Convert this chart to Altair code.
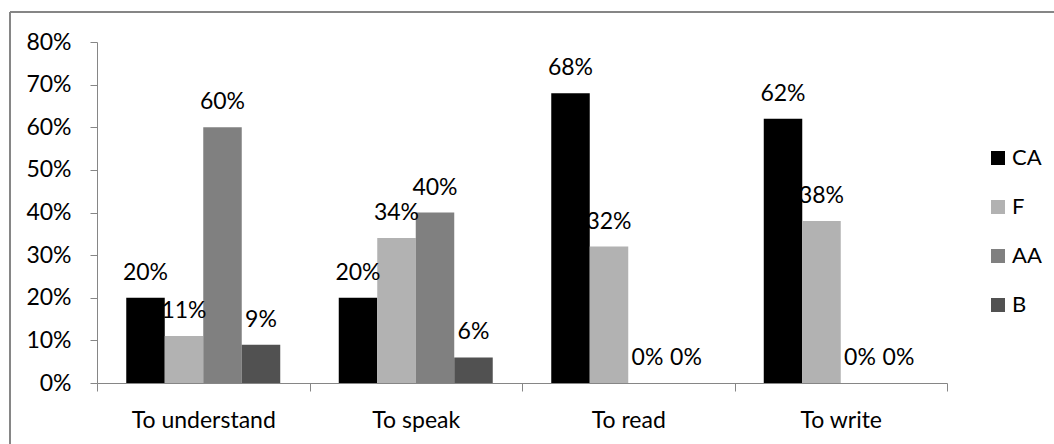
import altair as alt
import pandas as pd

# Survey results: share of answers per skill and level
skills = ["To understand", "To speak", "To read", "To write"]
levels = ["CA", "F", "AA", "B"]
ca = [0.20, 0.20, 0.68, 0.62]
f = [0.11, 0.34, 0.32, 0.38]
aa = [0.60, 0.40, 0.00, 0.00]
b = [0.09, 0.06, 0.00, 0.00]
level_colors = ["#000000", "#b2b2b2", "#808080", "#515151"]

rows = []
for level, series in zip(levels, [ca, f, aa, b]):
    for skill, v in zip(skills, series):
        rows.append({"skill": skill, "level": level, "share": v})
df = pd.DataFrame(rows)

FONT = "Lato"
FS = 23
AXIS_GRAY = "#868686"

x_enc = alt.X("skill:N", sort=skills, title=None,
              scale=alt.Scale(paddingInner=0, paddingOuter=0),
              axis=alt.Axis(labelAngle=0, tickBand="extent", tickSize=8,
                            labelPadding=18, domainColor=AXIS_GRAY,
                            tickColor=AXIS_GRAY, labelColor="#000000",
                            labelFont=FONT, labelFontSize=FS))
off_enc = alt.XOffset("level:N", sort=levels,
                      scale=alt.Scale(paddingInner=0, paddingOuter=0.76))
y_enc = alt.Y("share:Q", title=None,
              scale=alt.Scale(domain=[0, 0.8], nice=False),
              axis=alt.Axis(values=[0, 0.1, 0.2, 0.3, 0.4, 0.5, 0.6, 0.7, 0.8],
                            format=".0%", grid=False, tickSize=7,
                            labelPadding=19, domainColor=AXIS_GRAY,
                            tickColor=AXIS_GRAY, labelColor="#000000",
                            labelFont=FONT, labelFontSize=FS))

bars = alt.Chart(df).mark_bar().encode(
    x=x_enc,
    xOffset=off_enc,
    y=y_enc,
    color=alt.Color("level:N", sort=levels,
                    scale=alt.Scale(domain=levels, range=level_colors),
                    legend=alt.Legend(title=None, orient="none",
                                      legendX=890, legendY=105,
                                      symbolType="square", symbolSize=196,
                                      symbolStrokeWidth=0, symbolOpacity=1,
                                      labelFont=FONT, labelFontSize=FS - 1,
                                      labelColor="#000000", labelOffset=3,
                                      rowPadding=27)),
)

labels = alt.Chart(df).mark_text(
    baseline="middle", align="center", dy=-25, font=FONT, fontSize=FS,
    color="#000000",
).encode(
    x=alt.X("skill:N", sort=skills),
    xOffset=alt.XOffset("level:N", sort=levels),
    y="share:Q",
    text=alt.Text("share:Q", format=".0%"),
)

# Chart-area frame (left and top edges)
frame_left = alt.Chart(df).mark_rule(color=AXIS_GRAY, strokeWidth=1.5).encode(
    x=alt.value(-87), y=alt.value(-30), y2=alt.value(420))
frame_top = alt.Chart(df).mark_rule(color=AXIS_GRAY, strokeWidth=1.5).encode(
    x=alt.value(-87), x2=alt.value(970), y=alt.value(-30))

chart = alt.layer(bars, labels, frame_left, frame_top).properties(
    width=850, height=341,
    autosize=alt.AutoSizeParams(type="none"),
    padding={"left": 97, "top": 42, "right": 107, "bottom": 61},
    background="#ffffff",
).configure_view(stroke=None)

chart.save("out.html", embed_options={"renderer": "svg", "actions": False})
